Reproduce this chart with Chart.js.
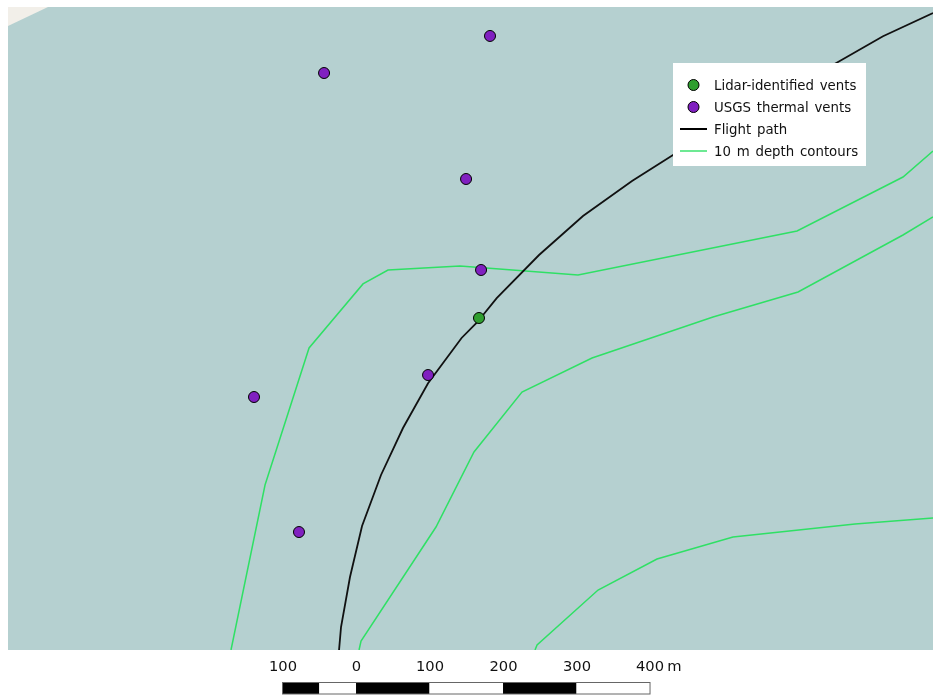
<!DOCTYPE html>
<html>
<head>
<meta charset="utf-8">
<title>Vents map</title>
<script src="https://cdn.jsdelivr.net/npm/chart.js@4"></script>
<style>
  html, body { margin: 0; padding: 0; background: #fff; }
  canvas { display: block; }
</style>
</head>
<body>
<canvas id="map" width="933" height="696"></canvas>
<script>
// all coordinates are metres, origin at the 0 mark of the scale bar / bottom edge of the map
var lidarX = [167.3];
var lidarY = [451.7];

var usgsX = [182.3, -43.5, 149.7, 170.1, 98.0, -138.8, -77.6];
var usgsY = [835.4, 785.0, 640.8, 517.0, 374.1, 344.2, 160.5];

var pathX = [-23.1, -20.4, -8.2, 8.2, 34.0, 63.9, 98.0, 143.6, 164.6, 191.4, 249.0, 308.8, 375.5, 431.3, 654.0, 717.0, 785];
var pathY = [0, 31.3, 99.3, 168.7, 238.1, 302.0, 363.0, 424.5, 445.6, 478.8, 537.4, 590.5, 638.1, 673.5, 799.0, 835.0, 866.7];

var contour1X = [-170.1, -123.8, -63.9, 9.5, 43.5, 141.5, 302.0, 600.0, 744.2, 785];
var contour1Y = [0, 224.5, 410.9, 498.0, 517.0, 522.4, 510.2, 570.1, 643.5, 678.9];

var contour2X = [4.1, 6.8, 108.8, 160.5, 225.8, 321.1, 485.7, 601.4, 744.2, 785];
var contour2Y = [0, 12.2, 167.3, 269.4, 351.0, 397.3, 453.1, 487.1, 564.6, 589.1];

var contour3X = [243.5, 246.3, 329.3, 409.5, 512.9, 678.9, 785];
var contour3Y = [0, 6.8, 81.6, 123.8, 153.7, 171.4, 179.6];

var landX = [-473.5, -419];
var landY = [849, 874.8];

var scaleEdges = [-100, -50, 0, 100, 200, 300, 400];
var scaleTicks = [-100, 0, 100, 200, 300, 400];
var scaleLabels = ["100", "0", "100", "200", "300", "400 m"];

var legendLabels = ["Lidar-identified vents", "USGS thermal vents", "Flight path", "10 m depth contours"];

var WATER = "#b5d0d0";
var LAND = "#f2efe9";
var GREEN = "#2f9e2f";
var PURPLE = "#8020c0";
var CONTOUR = "#2fe065";
var FONT = '"DejaVu Sans"';

function pairs(xs, ys) {
    return xs.map(function (x, i) { return { x: x, y: ys[i] }; });
}

function lineSet(label, xs, ys, color, width) {
    return {
        label: label, data: pairs(xs, ys), showLine: true, fill: false,
        borderColor: color, borderWidth: width, pointRadius: 0, tension: 0, order: 3
    };
}

function pointSet(label, xs, ys, color) {
    return {
        label: label, data: pairs(xs, ys), showLine: false,
        backgroundColor: color, borderColor: "#000", borderWidth: 1, pointRadius: 5.5, order: 1
    };
}

// water background, scale bar and legend box
var mapExtras = {
    id: "mapExtras",
    beforeDatasetsDraw: function (chart) {
        var a = chart.chartArea, c = chart.ctx;
        c.save();
        c.globalCompositeOperation = "destination-over";
        c.fillStyle = WATER;
        c.fillRect(a.left, a.top, a.right - a.left, a.bottom - a.top);
        c.restore();
    },
    afterDraw: function (chart) {
        var c = chart.ctx, xs = chart.scales.x;
        c.save();
        // scale bar
        for (var i = 0; i < scaleEdges.length - 1; i++) {
            var x0 = xs.getPixelForValue(scaleEdges[i]);
            var x1 = xs.getPixelForValue(scaleEdges[i + 1]);
            c.fillStyle = i % 2 === 0 ? "#000" : "#fff";
            c.fillRect(x0, 682.5, x1 - x0, 11.5);
        }
        c.strokeStyle = "#666";
        c.lineWidth = 1;
        c.strokeRect(xs.getPixelForValue(-100), 682.5, xs.getPixelForValue(400) - xs.getPixelForValue(-100), 11.5);

        c.fillStyle = "#111";
        c.font = "14.7px " + FONT;
        c.textBaseline = "middle";
        c.wordSpacing = "-1.5px";
        scaleTicks.forEach(function (t, i) {
            var isLast = i === scaleTicks.length - 1;
            c.textAlign = isLast ? "left" : "center";
            var px = xs.getPixelForValue(t);
            c.fillText(scaleLabels[i], isLast ? px - 14 : px + 0.5, 667.5);
        });

        // legend
        c.fillStyle = "#fff";
        c.fillRect(673, 63, 193, 103);
        var rows = [85, 107, 129, 151];
        c.font = "13.33px " + FONT;
        c.wordSpacing = "1.5px";
        c.textAlign = "left";
        c.fillStyle = "#111";
        legendLabels.forEach(function (txt, i) {
            c.fillText(txt, 714, rows[i] + 1.5);
        });
        [GREEN, PURPLE].forEach(function (col, i) {
            c.beginPath();
            c.arc(693.5, rows[i], 5.5, 0, Math.PI * 2);
            c.fillStyle = col;
            c.fill();
            c.strokeStyle = "#000";
            c.lineWidth = 1;
            c.stroke();
        });
        c.strokeStyle = "#000";
        c.lineWidth = 2;
        c.beginPath(); c.moveTo(680, rows[2]); c.lineTo(707, rows[2]); c.stroke();
        c.strokeStyle = CONTOUR;
        c.lineWidth = 1.4;
        c.beginPath(); c.moveTo(680, rows[3]); c.lineTo(707, rows[3]); c.stroke();
        c.restore();
    }
};

new Chart(document.getElementById("map").getContext("2d"), {
    type: "scatter",
    data: {
        datasets: [
            pointSet(legendLabels[0], lidarX, lidarY, GREEN),
            pointSet(legendLabels[1], usgsX, usgsY, PURPLE),
            lineSet(legendLabels[2], pathX, pathY, "#111", 1.8),
            lineSet(legendLabels[3], contour1X, contour1Y, CONTOUR, 1.5),
            lineSet(legendLabels[3], contour2X, contour2Y, CONTOUR, 1.5),
            lineSet(legendLabels[3], contour3X, contour3Y, CONTOUR, 1.5),
            {
                label: "Land", data: pairs(landX, landY), showLine: true,
                fill: "end", backgroundColor: LAND, borderWidth: 0, pointRadius: 0, order: 5
            }
        ]
    },
    options: {
        responsive: false,
        animation: false,
        layout: { autoPadding: false, padding: { left: 8, top: 7, right: 0, bottom: 46 } },
        plugins: { legend: { display: false }, tooltip: { enabled: false } },
        scales: {
            x: { type: "linear", min: -473.5, max: 785, display: false },
            y: { type: "linear", min: 0, max: 874.8, display: false }
        }
    },
    plugins: [mapExtras]
});
</script>
</body>
</html>
